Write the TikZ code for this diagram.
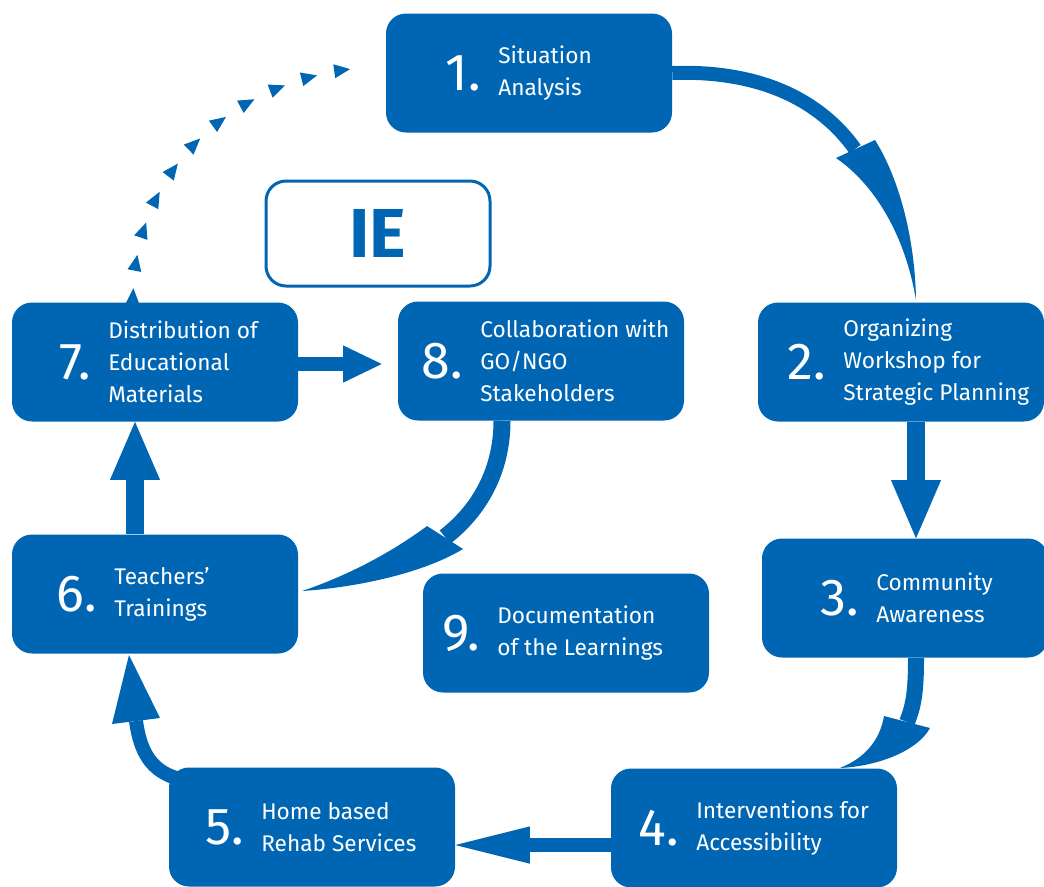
\documentclass[tikz,border=0pt]{standalone}
\usepackage{fontspec}
\IfFontExistsTF{Fira Sans Book}
  {\setmainfont{Fira Sans Book}[BoldFont={Fira Sans Bold}]}
  {\setmainfont{Fira Sans}}
\usetikzlibrary{arrows.meta,decorations.markings}

\definecolor{ieblue}{HTML}{0066B3}

\tikzset{
  stepbox/.style={fill=ieblue, rounded corners=15pt, minimum width=214.5pt,
    minimum height=89.25pt, inner sep=0pt},
  stepnum/.style={text=white, inner sep=0pt, anchor=east,
    font=\fontsize{39}{39}\selectfont},
  steptext/.style={text=white, inner sep=0pt, anchor=west, align=left,
    font=\fontsize{17}{24}\selectfont},
  flow/.style={draw=ieblue, line width=13.5pt,
    -{Triangle[length=43.5pt, width=37.5pt, line width=0pt]}},
  shaft/.style={draw=ieblue, line width=12pt},
  head/.style={fill=ieblue},
}

\begin{document}
\begin{tikzpicture}[x=0.75pt, y=-0.75pt]
  \useasboundingbox (0,0) rectangle (1044,886);

  % the nine steps
  \foreach \n/\x/\y/\tx/\num/\txt in {
      b1/529/73/498/1/{Situation\\Analysis},
      b2/901/362/843/2/{Organizing\\Workshop for\\Strategic Planning},
      b3/905/598/876/3/{Community\\Awareness},
      b4/754/828/696/4/{Interventions for\\Accessibility},
      b5/312/827/261/5/{Home based\\Rehab Services},
      b6/155/594/114/6/{Teachers’\\Trainings},
      b7/155/362/108/7/{Distribution of\\Educational\\Materials},
      b8/541/361/480/8/{Collaboration with\\GO/NGO\\Stakeholders},
      b9/566/633/497/9/{Documentation\\of the Learnings}} {
    \node[stepbox] (\n) at (\x,\y) {};
    \node[stepnum] (\n-num) at (\tx-17,\y) {\num.};
    \node[steptext] (\n-txt) at (\tx,\y) {\txt};
  }

  % centre label
  \node[draw=ieblue, line width=2.25pt, fill=white, rounded corners=15pt,
    minimum width=168pt, minimum height=78.75pt, text=ieblue,
    font=\bfseries\fontsize{52}{52}\selectfont] (ie) at (378,233.5) {IE};

  % 1 -> 2
  \draw[shaft, line width=10.5pt] (b1.east) .. controls (760,70) and (820,100) .. (855,149);
  \fill[head] (836,158) .. controls (875,185) and (905,235) .. (916,300)
    .. controls (915,240) and (900,180) .. (875,140) -- cycle;

  % 2 -> 3
  \draw[flow] ([xshift=11.25pt]b2.south) -- ([xshift=11.25pt]b2.south |- b3.north);

  % 3 -> 4
  \draw[shaft] ([xshift=8.25pt]b3.south) .. controls (916,690) and (914,705) .. (907,722);
  \fill[head] (884,716) .. controls (880,740) and (865,758) .. (840,768)
    .. controls (880,766) and (918,750) .. (930,728) -- cycle;

  % 4 -> 5
  \draw[flow, line width=11pt, -{Triangle[length=56pt, width=28pt, line width=0pt]}]
    ([yshift=-12.75pt]b4.west) -- ([yshift=-12.75pt]b4.west -| b5.east);

  % 5 -> 6
  \draw[shaft, line width=10.5pt] ([xshift=9pt, yshift=-9pt]b5.north west)
    .. controls (150,772) and (140,750) .. (136,721);
  \fill[head] (112,724) -- (129,655) -- (160,718) -- cycle;

  % 6 -> 7
  \draw[flow] ([xshift=-15pt]b6.north) -- ([xshift=-15pt]b6.north |- b7.south);

  % 7 -> 8
  \draw[flow, line width=10.5pt, -{Triangle[length=29pt, width=28pt, line width=0pt]},
    shorten >=12pt] ([yshift=-1.5pt]b7.east) -- ([yshift=-1.5pt]b7.east -| b8.west);

  % 8 -> 6
  \draw[shaft, line width=12.75pt] ([xshift=-29.25pt]b8.south)
    .. controls (502,470) and (480,510) .. (445,537);
  \fill[head] (427,526) .. controls (395,550) and (350,575) .. (302,591)
    .. controls (350,588) and (420,575) .. (463,549) -- cycle;

  % 7 -> 1, dotted back to the start
  \path[decorate, decoration={markings,
      mark=between positions 0.04 and 1 step 0.0958 with
        {\fill[ieblue] (0pt,0pt) -- (-12pt,5.25pt) -- (-12pt,-5.25pt) -- cycle;}}]
    ([xshift=-16.5pt]b7.north) .. controls (133,170) and (230,85)
    .. ([xshift=-26.25pt, yshift=3pt]b1.west);
\end{tikzpicture}
\end{document}
